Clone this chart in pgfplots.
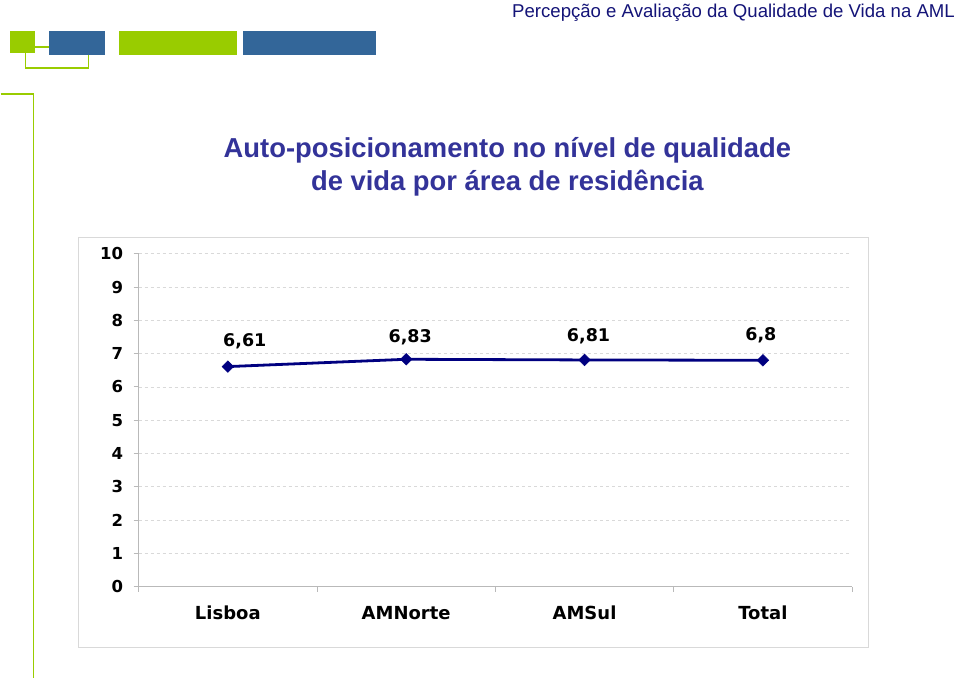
\documentclass[border=0pt]{standalone}
\usepackage{pgfplots}
\pgfplotsset{compat=1.18}
\usepackage{pgfplotstable}
\usepackage{fontspec}
\setmainfont{Liberation Sans}
\newfontfamily\dejavu{DejaVu Sans}
\definecolor{lgreen}{RGB}{153,204,0}
\definecolor{sblue}{RGB}{51,102,153}
\definecolor{hnavy}{RGB}{20,20,120}
\definecolor{tblue}{RGB}{51,51,153}
\definecolor{lnavy}{RGB}{0,0,128}
\pgfplotstableread{
x y dx dy
0 6.61 17 20
1 6.83 4 17
2 6.81 4 18
3 6.80 -2 20
}\datatab
\begin{document}
\begin{tikzpicture}[x=1pt,y=1pt]
\fill[white] (0,0) rectangle (959,679);
% decorations
\fill[lgreen] (9,679-31) rectangle (34,679-53);
\fill[sblue] (48,679-31) rectangle (104,679-55);
\fill[lgreen] (118,679-31) rectangle (236,679-55);
\fill[sblue] (242,679-31) rectangle (376,679-55);
\draw[lgreen,line width=1.5pt] (34,679-47) -- (48,679-47);
\draw[lgreen,line width=1.5pt] (25,679-53) -- (25,679-68) -- (88,679-68) -- (88,679-55);
\draw[lgreen,line width=1.5pt] (0,679-94) -- (33,679-94) -- (33,0);
% header
\node[anchor=north east,inner sep=0pt,text=hnavy,font=\fontsize{18.6}{20}\selectfont] at (955,675) {Percepção e Avaliação da Qualidade de Vida na AML};
% title
\node[align=center,text=tblue,font=\bfseries\fontsize{27.4}{33}\selectfont,inner sep=0pt] at (507,679-167) {Auto-posicionamento no nível de qualidade\\de vida por área de residência};
% chart box
\draw[gray!30,line width=1pt] (78,679-648) rectangle (868,679-238);
\begin{axis}[
  at={(138pt,92pt)}, anchor=south west,
  scale only axis, width=714pt, height=333pt,
  xmin=-0.5, xmax=3.5, ymin=0, ymax=10,
  axis lines*=left,
  axis line style={draw=gray!55,line width=0.8pt,-},
  xtick={-0.5,0.5,1.5,2.5,3.5},
  x tick label as interval,
  xticklabels={Lisboa,AMNorte,AMSul,Total},
  ytick={0,1,...,10},
  tick align=outside,
  major tick length=5pt,
  tick style={draw=gray!55,line width=0.8pt},
  ymajorgrids,
  grid style={draw=gray!30,dashed,line width=0.6pt},
  /pgf/number format/assume math mode=true,
  yticklabel style={font=\dejavu\bfseries\fontsize{16.5}{16.5}\selectfont,text=black,xshift=-7pt},
  xticklabel style={font=\dejavu\bfseries\fontsize{18}{18}\selectfont,text=black,yshift=-11pt,text height=13pt},
  clip=false,
]
\addplot[lnavy,line width=2.8pt,mark=square*,mark size=4.1pt,
  mark options={rotate=45,fill=lnavy,line width=0.5pt},
  nodes near coords,
  point meta=explicit,
  visualization depends on={\thisrow{dx} \as \dx},
  visualization depends on={\thisrow{dy} \as \dy},
  every node near coord/.append style={anchor=base,inner sep=0pt,yshift={\dy pt},xshift={\dx pt},text=black,font=\dejavu\bfseries\fontsize{17.5}{17.5}\selectfont,/pgf/number format/use comma,/pgf/number format/assume math mode=true},
] table[x=x,y=y,meta=y] {\datatab};
\end{axis}
\end{tikzpicture}
\end{document}
